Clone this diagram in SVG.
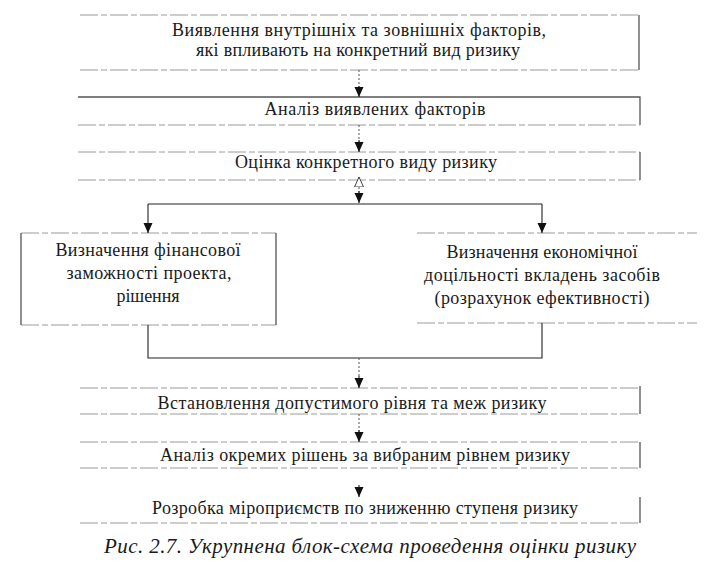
<svg xmlns="http://www.w3.org/2000/svg" width="718" height="580" viewBox="0 0 718 580">
<style>
.bg{fill:#ffffff}
.edge{fill:none;stroke:#9a9a9a;stroke-width:1;stroke-dasharray:18 3 6 3}
.side{fill:none;stroke:#555;stroke-width:1.3}
.lbl{font-family:"Liberation Serif","Times New Roman",Tinos,"DejaVu Serif","Noto Serif",Times,serif;font-size:18px;fill:#1a1a1a;text-anchor:middle}
.cap{font-family:"Liberation Serif","Times New Roman",Tinos,"DejaVu Serif","Noto Serif",Times,serif;font-size:21px;font-style:italic;fill:#1a1a1a;text-anchor:middle}
.con{fill:none;stroke:#222;stroke-width:1.1}
.dot{fill:none;stroke:#555;stroke-width:1;stroke-dasharray:2 2}
</style>
<defs>
<marker id="ah" viewBox="0 0 10 10" refX="10" refY="5" markerWidth="10" markerHeight="10" markerUnits="userSpaceOnUse" orient="auto">
<path d="M0,0.5 L10,5 L0,9.5 Z" fill="#111"/>
</marker>
<marker id="ahh" viewBox="0 0 10 10" refX="10" refY="5" markerWidth="10" markerHeight="10" markerUnits="userSpaceOnUse" orient="auto">
<path d="M0,0.5 L10,5 L0,9.5 Z" fill="#fff" stroke="#444" stroke-width="1"/>
</marker>
</defs>
<rect class="bg" width="718" height="580"/>

<g id="n1">
<path class="edge" d="M80,15 H639 M80,70 H639"/>
<path class="side" d="M639,15 V70"/>
<text class="lbl" x="359" y="36" textLength="374" lengthAdjust="spacing">Виявлення внутрішніх та зовнішніх факторів,</text>
<text class="lbl" x="358" y="56" textLength="324" lengthAdjust="spacing">які впливають на конкретний вид ризику</text>
</g>

<g id="n2">
<path class="side" d="M78,97 H640 V125"/>
<path class="edge" d="M78,125 H640"/>
<text class="lbl" x="375" y="115" textLength="221" lengthAdjust="spacing">Аналіз виявлених факторів</text>
</g>

<g id="n3">
<path class="edge" d="M78,152 H640 M78,180 H640"/>
<path class="side" d="M640,152 V180"/>
<text class="lbl" x="366" y="168" textLength="262" lengthAdjust="spacing">Оцінка конкретного виду ризику</text>
</g>

<g id="n4">
<path class="edge" d="M21,233 H276 M21,325 H276"/>
<path class="side" d="M21,233 V325 M276,233 V325"/>
<text class="lbl" x="148" y="256" textLength="185" lengthAdjust="spacing">Визначення фінансової</text>
<text class="lbl" x="149" y="279" textLength="165" lengthAdjust="spacing">заможності проекта,</text>
<text class="lbl" x="148" y="302" textLength="63" lengthAdjust="spacing">рішення</text>
</g>

<g id="n5">
<path class="edge" d="M417,233 H697 M417,323 H697"/>
<text class="lbl" x="542" y="258" textLength="191" lengthAdjust="spacing">Визначення економічної</text>
<text class="lbl" x="542" y="281" textLength="236" lengthAdjust="spacing">доцільності вкладень засобів</text>
<text class="lbl" x="542" y="304" textLength="215" lengthAdjust="spacing">(розрахунок ефективності)</text>
</g>

<g id="n6">
<path class="edge" d="M80,388 H640 M80,414 H640"/>
<path class="side" d="M640,386 V414"/>
<text class="lbl" x="352" y="409" textLength="389" lengthAdjust="spacing">Встановлення допустимого рівня та меж ризику</text>
</g>

<g id="n7">
<path class="edge" d="M80,442 H640 M80,468 H640"/>
<path class="side" d="M640,442 V468"/>
<text class="lbl" x="365" y="461" textLength="410" lengthAdjust="spacing">Аналіз окремих рішень за вибраним рівнем ризику</text>
</g>

<g id="n8">
<path class="edge" d="M80,523 H640"/>
<path class="side" d="M640,497 V523"/>
<text class="lbl" x="365" y="514" textLength="426" lengthAdjust="spacing">Розробка міроприємств по зниженню ступеня ризику</text>
</g>

<text class="cap" x="370" y="553" textLength="532" lengthAdjust="spacing">Рис. 2.7. Укрупнена блок-схема проведення оцінки ризику</text>

<g id="connectors">
<path class="dot" d="M359,70 V88"/>
<path class="con" d="M359,86 V97" marker-end="url(#ah)"/>
<path class="dot" d="M359,125 V142"/>
<path class="con" d="M359,140 V152" marker-end="url(#ah)"/>
<path class="dot" d="M359,187 V193"/>
<path class="con" d="M359,187 V177" marker-end="url(#ahh)"/>
<path class="con" d="M359,191 V203" marker-end="url(#ah)"/>
<path class="con" d="M148,204 H542"/>
<path class="con" d="M148,204 V233" marker-end="url(#ah)"/>
<path class="con" d="M542,204 V233" marker-end="url(#ah)"/>
<path class="con" d="M148,325 V358 H542 V323"/>
<path class="dot" d="M359,358 V378"/>
<path class="con" d="M359,376 V388" marker-end="url(#ah)"/>
<path class="dot" d="M359,414 V432"/>
<path class="con" d="M359,430 V442" marker-end="url(#ah)"/>
<path class="con" d="M359,485 V497" marker-end="url(#ah)"/>
</g>
</svg>
